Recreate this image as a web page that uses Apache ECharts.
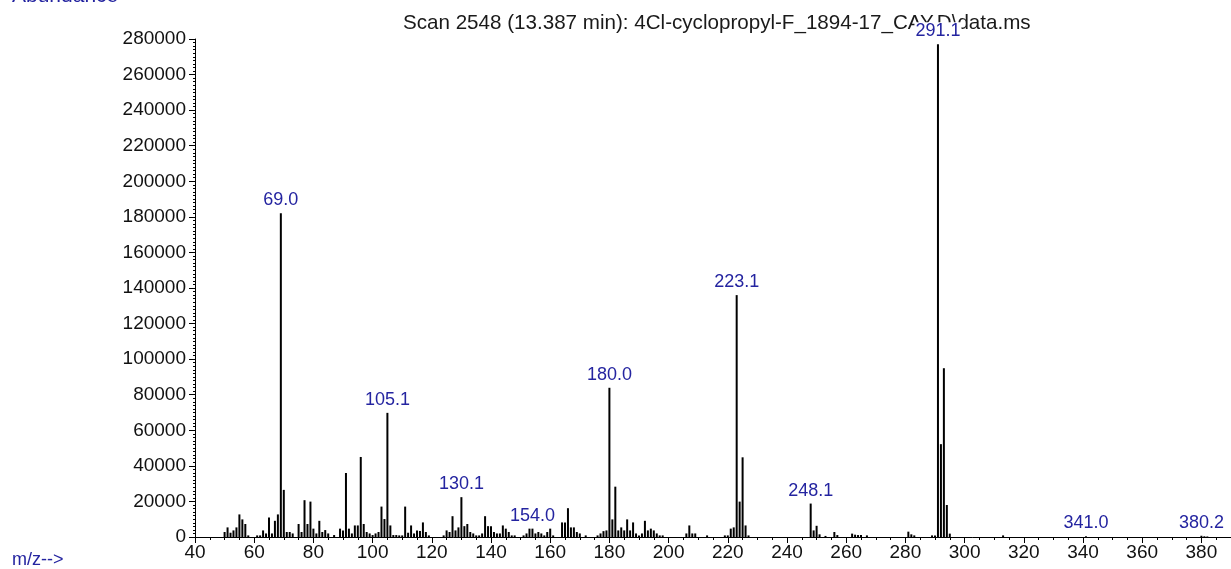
<!DOCTYPE html>
<html>
<head>
<meta charset="utf-8">
<title>Scan 2548</title>
<script src="https://cdn.jsdelivr.net/npm/echarts@6/dist/echarts.min.js"></script>
<style>
    html,body{margin:0;padding:0;background:#fff;}
    #ms_chart{width:1231px;height:569px;}
</style>
</head>
<body>
<div id="ms_chart"></div>
<script>
// 质谱数据 m/z 与丰度
var mz=[50,51,52,53,54,55,56,57,58,61,62,63,64,65,66,67,68,69,70,71,72,73,75,76,77,78,79,80,81,82,83,84,85,87,89,90,
    91,92,93,94,95,96,97,98,99,100,101,102,103,104,105,106,107,108,109,110,111,112,113,114,115,116,117,118,119,
    124,125,126,127,128,129,130,131,132,133,134,135,136,137,138,139,140,141,142,143,144,145,146,147,148,
    151,152,153,154,155,156,157,158,159,160,161,164,165,166,167,168,169,170,172,176,177,178,179,
    180,181,182,183,184,185,186,187,188,189,190,191,192,193,194,195,196,197,198,206,207,208,209,213,219,220,
    221,222,223,224,225,226,227,248,249,250,251,253,256,257,262,263,264,265,267,281,282,283,289,290,
    291,292,293,294,295,313,341,380,381,382];
var abundance=[2800,5400,2400,3700,5400,12700,9900,7300,900,900,900,3700,2000,11000,2000,9100,12700,182000,26500,2800,2800,2000,7300,2800,20700,7300,19900,4700,2000,9100,2800,3900,2000,1100,4700,3700,
    36000,4700,2000,6500,6500,45000,7300,2800,2000,1100,2000,2800,17100,10100,69800,6500,1100,1100,900,900,17100,2400,6500,2000,3700,3400,8200,2800,900,
    900,3700,2800,11700,3700,5400,22400,6100,7300,2800,2000,900,900,2000,11700,6100,6100,2800,2000,2000,6500,4700,2800,900,900,
    900,2000,4700,4700,2000,2800,2000,900,2800,4700,900,8200,8200,16200,5400,5400,2800,2000,900,900,2000,3300,3700,
    83900,9900,28300,3700,5400,3700,9900,3700,8200,2000,900,2000,9100,3700,4700,3700,2000,900,900,2000,6500,2000,2000,900,900,900,
    4700,5400,136000,19900,44800,6500,900,18800,3700,6300,1500,600,2800,1100,1900,1300,1100,1100,900,3000,1500,900,900,900,
    277000,52200,94900,18000,1900,900,400,700,400,300];

// 标注的峰
var label_mz=[69,105,130,154,180,223,248,291,341,380];
var label_text=['69.0','105.1','130.1','154.0','180.0','223.1','248.1','291.1','341.0','380.2'];

var blue='#2424a0';

var ms_chart=echarts.init(document.getElementById('ms_chart'));

var bar_data=mz.map(function (m,i) {
    var item={value:[m,abundance[i]]};
    var k=label_mz.indexOf(m);
    if(k>=0){
        item.label={show:true,formatter:label_text[k]};
    }
    return item;
});

var option={
    animation:false,
    title:{
        text:'Scan 2548 (13.387 min): 4Cl-cyclopropyl-F_1894-17_CAY.D\\data.ms',
        left:398,
        top:8,
        z:1,
        textStyle:{
            color:'#1a1a1a',
            fontSize:20.6,
            fontWeight:'normal',
            fontFamily:'Liberation Sans'
        }
    },
    graphic:[
        {type:'text',left:12,top:-14,style:{text:'Abundance',fill:blue,font:'21px "Liberation Sans"'}},
        {type:'text',left:12,top:551,style:{text:'m/z-->',fill:blue,font:'18px "Liberation Sans"'}}
    ],
    grid:{left:195,right:0,top:39,bottom:32},
    xAxis:{
        type:'value',
        min:40,
        max:390,
        interval:20,
        splitLine:{show:false},
        axisLine:{lineStyle:{color:'#000',width:1}},
        axisTick:{length:6,lineStyle:{color:'#000'}},
        minorTick:{show:true,splitNumber:4,length:3,lineStyle:{color:'#000'}},
        axisLabel:{
            color:'#111',
            fontSize:19,
            fontFamily:'Liberation Sans',
            margin:6,
            showMaxLabel:false,
            formatter:function (v) {
                return v%20===0?String(v):'';
            }
        }
    },
    yAxis:{
        type:'value',
        min:0,
        max:280000,
        interval:20000,
        splitLine:{show:false},
        axisLine:{show:true,lineStyle:{color:'#000',width:1}},
        axisTick:{show:true,length:6,lineStyle:{color:'#000'}},
        minorTick:{show:true,splitNumber:10,length:2,lineStyle:{color:'#000'}},
        axisLabel:{
            color:'#111',
            fontSize:19,
            fontFamily:'Liberation Sans',
            margin:9,
            formatter:function (v) {
                return String(v);
            }
        }
    },
    series:[{
        type:'bar',
        z:10,
        barWidth:2,
        itemStyle:{color:'#000'},
        label:{
            show:false,
            position:'top',
            distance:4,
            color:blue,
            fontSize:18,
            fontFamily:'Liberation Sans',
            backgroundColor:'#fff',
            padding:[0,1]
        },
        data:bar_data
    }]
};

ms_chart.setOption(option);
</script>
</body>
</html>
